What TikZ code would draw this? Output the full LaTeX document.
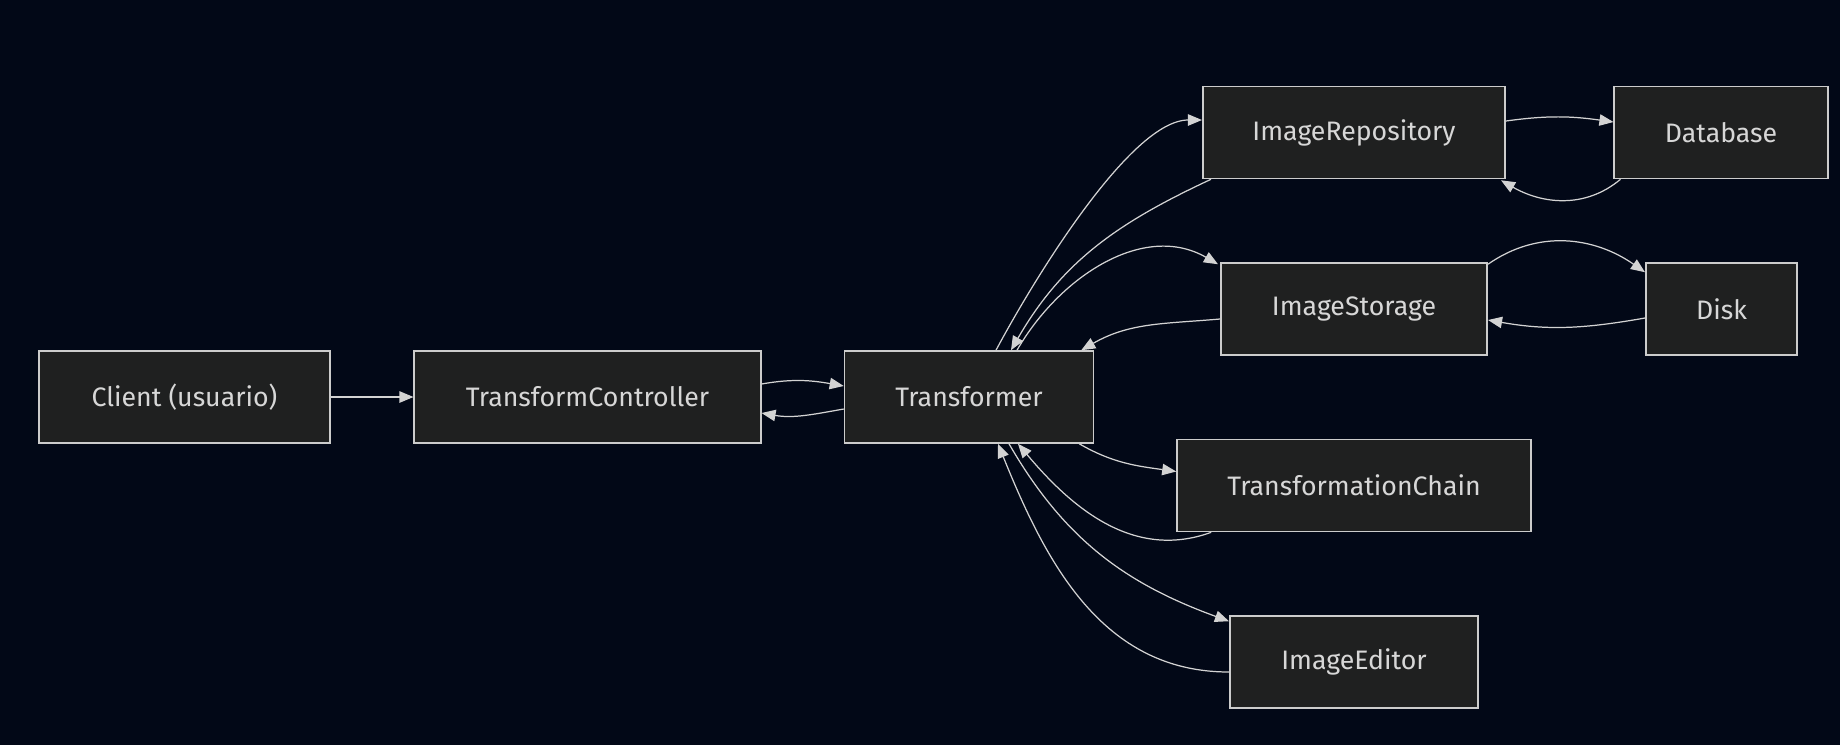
\documentclass[tikz,border=0pt]{standalone}
\usepackage{fontspec}
\setmainfont{Fira Sans}
\usetikzlibrary{arrows.meta,calc}
\definecolor{bgnavy}{RGB}{2,8,23}
\definecolor{boxfill}{RGB}{31,32,32}
\definecolor{boxline}{RGB}{204,204,204}
\definecolor{edgegray}{RGB}{211,211,211}
\definecolor{labelgray}{RGB}{215,215,215}

\begin{document}
\begin{tikzpicture}[x=0.02cm, y=-0.02cm,
        block/.style={draw=boxline, fill=boxfill, line width=0.9pt, text=labelgray,
            minimum height=1.84cm, inner sep=0pt, font=\fontsize{15.2}{18}\selectfont},
        flow/.style={draw=edgegray, line width=0.7pt, -{Triangle[length=8pt,width=6.5pt]}}]

        \fill[bgnavy] (0,0) rectangle (1840,745);

        \node[block, minimum width=5.81cm] (client) at (184.5,397) {Client (usuario)};
        \node[block, minimum width=6.93cm] (ctrl) at (587.5,397) {TransformController};
        \node[block, minimum width=4.98cm] (trans) at (969,397) {Transformer};

        \node[block, minimum width=6.05cm] (repo) at (1354,132.5) {ImageRepository};
        \node[block, minimum width=4.27cm] (db) at (1721,132.5) {Database};
        \node[block, minimum width=5.33cm] (storage) at (1354,309) {ImageStorage};
        \node[block, minimum width=3.03cm] (disk) at (1721.5,309) {Disk};
        \node[block, minimum width=7.08cm] (chain) at (1354,485.5) {TransformationChain};
        \node[block, minimum width=4.97cm] (editor) at (1354,662) {ImageEditor};

        \draw[flow] (client) -- (ctrl);
        \draw[flow] ($(ctrl.east)+(0,-13)$) to[out=10,in=170] ($(trans.west)+(0,-11)$);
        \draw[flow] ($(trans.west)+(0,12)$) to[out=190,in=-10] ($(ctrl.east)+(0,16)$);

        \draw[flow] ($(trans.north)+(27,0)$) to[out=62,in=180,looseness=0.6] ($(repo.west)+(0,-12.5)$);
        \draw[flow] ($(repo.south west)+(9,0)$) to[out=205,in=60] ($(trans.north)+(42,0)$);
        \draw[flow] ($(trans.north)+(48,0)$) to[out=60,in=150] ($(storage.north west)+(-2,2)$);
        \draw[flow] ($(storage.west)+(0,10)$) to[out=185,in=30] ($(trans.north east)+(-13,0)$);

        \draw[flow] ($(repo.east)+(0,-11.5)$) to[out=8,in=172] ($(db.west)+(0,-10.5)$);
        \draw[flow] ($(db.south west)+(7,0)$) to[out=220,in=-30] ($(repo.south east)+(-5,1)$);
        \draw[flow] ($(storage.north east)+(0,2)$) to[out=35,in=145] ($(disk.north west)+(0,10)$);
        \draw[flow] ($(disk.west)+(0,9)$) to[out=190,in=-10] ($(storage.east)+(0,11)$);

        \draw[flow] ($(trans.south east)+(-15,0)$) to[out=-30,in=172] ($(chain.west)+(0,-14)$);
        \draw[flow] ($(chain.south west)+(35,0)$) to[out=200,in=-50] ($(trans.south)+(49,0)$);
        \draw[flow] ($(trans.south)+(40,0)$) to[out=-60,in=160] ($(editor.north west)+(0,6)$);
        \draw[flow] ($(editor.west)+(0,10)$) to[out=180,in=-68] ($(trans.south)+(29,0)$);

    \end{tikzpicture}
\end{document}
